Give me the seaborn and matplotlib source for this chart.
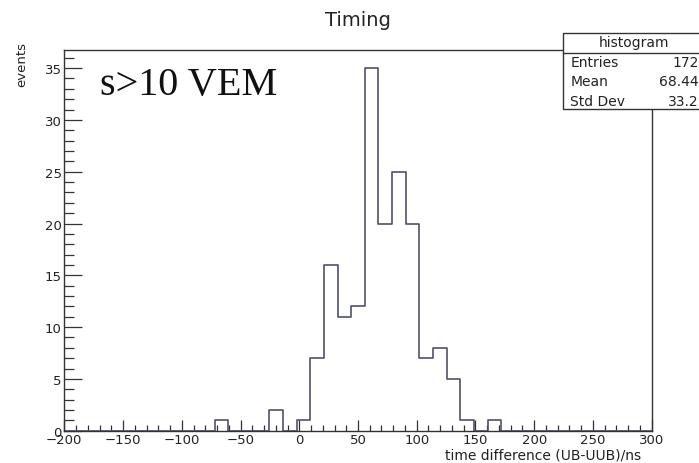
import numpy as np
import pandas as pd
import seaborn as sns
import matplotlib
matplotlib.use("Agg")
import matplotlib.pyplot as plt
from matplotlib.patches import Rectangle
from matplotlib.lines import Line2D
from matplotlib.ticker import MultipleLocator

# ---- data ----
n_bins = 43
x_range = (-200, 300)
counts = [0, 0, 0, 0, 0, 0, 0, 0, 0, 0,
          0, 1, 0, 0, 0, 2, 0, 1, 7, 16,
          11, 12, 35, 20, 25, 20, 7, 8, 5, 1,
          0, 1, 0, 0, 0, 0, 0, 0, 0, 0,
          0, 0, 0]
title = "Timing"
xlabel = "time difference (UB-UUB)/ns"
ylabel = "events"
annot = "s>10 VEM"
stat_title = "histogram"
stat_names = ["Entries", "Mean", "Std Dev"]
stat_values = ["172", "68.44", "33.2"]

width = (x_range[1] - x_range[0]) / n_bins
centers = x_range[0] + width * (np.arange(n_bins) + 0.5)
df = pd.DataFrame({"time": centers, "n": counts})

sns.set_style("white")
plt.rcParams["font.family"] = ["DejaVu Sans"]

W, H = 699, 464
fig = plt.figure(figsize=(W / 100, H / 100), dpi=100)
L, R, T, B = 64.3, 651.7, 51.0, 431.7
ax = fig.add_axes([L / W, 1 - B / H, (R - L) / W, (B - T) / H])

sns.histplot(data=df, x="time", weights="n", bins=n_bins, binrange=x_range,
             element="step", fill=False, color="#50506e", linewidth=1.2, ax=ax)

ax.set_xlim(*x_range)
ax.set_ylim(0, 1.05 * max(counts))
for s in ax.spines.values():
    s.set_color("#333333")
    s.set_linewidth(1.0)

ax.xaxis.set_major_locator(MultipleLocator(50))
ax.xaxis.set_minor_locator(MultipleLocator(10))
ax.yaxis.set_major_locator(MultipleLocator(5))
ax.yaxis.set_minor_locator(MultipleLocator(1))
ax.tick_params(axis="x", which="major", direction="in", length=8, width=0.9,
               color="#333333", labelsize=9.5, pad=1.5, bottom=True, top=False,
               labelcolor="#222222")
ax.tick_params(axis="x", which="minor", direction="in", length=4, width=0.9,
               color="#333333", bottom=True, top=False)
ax.tick_params(axis="y", which="major", direction="in", length=13, width=0.9,
               color="#333333", labelsize=9.5, pad=2.0, left=True, right=False,
               labelcolor="#222222")
ax.tick_params(axis="y", which="minor", direction="in", length=7.5, width=0.9,
               color="#333333", left=True, right=False)
ax.set_xlabel("")
ax.set_ylabel("")

fig.text(641 / W, 1 - 460 / H, xlabel, ha="right", va="baseline", fontsize=10,
         color="#222222")
fig.text(22 / W, 1 - 42 / H, ylabel, ha="center", va="top", rotation=90,
         fontsize=9.5, color="#222222")
fig.text(358 / W, 1 - 20 / H, title, ha="center", va="center", fontsize=14,
         color="#222222")
fig.text(100 / W, 1 - 95 / H, annot, ha="left", va="baseline", fontsize=29,
         family=["Liberation Serif", "DejaVu Serif"], color="#111111")

# stat box
bx0, by0, by1 = 563.0, 34.0, 110.0
fig.add_artist(Rectangle((bx0 / W, 1 - by1 / H), (W + 10 - bx0) / W, (by1 - by0) / H,
                         transform=fig.transFigure, facecolor="white",
                         edgecolor="#333333", linewidth=1.0))
fig.add_artist(Line2D([bx0 / W, 1.0], [1 - 53.5 / H] * 2, transform=fig.transFigure,
                      color="#333333", linewidth=1.0))
fig.text(634 / W, 1 - 43.5 / H, stat_title, ha="center", va="center", fontsize=10,
         color="#222222")
for i, (nm, val) in enumerate(zip(stat_names, stat_values)):
    y = 63 + 19.5 * i
    fig.text(570.5 / W, 1 - y / H, nm, ha="left", va="center", fontsize=10,
             color="#222222")
    fig.text(699 / W, 1 - y / H, val, ha="right", va="center", fontsize=10,
             color="#222222")

fig.savefig("out.png", dpi=100)
